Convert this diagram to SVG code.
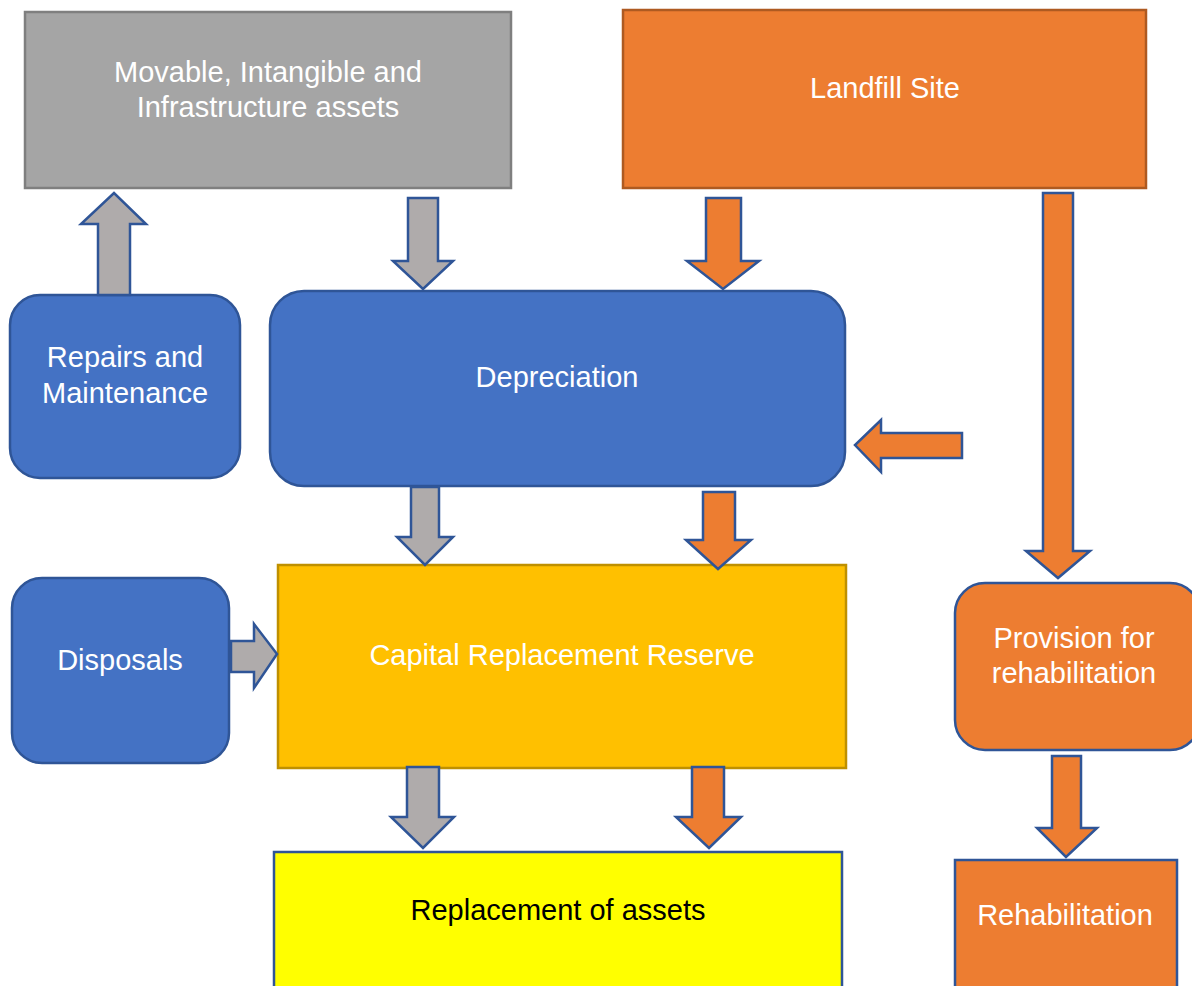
<svg xmlns="http://www.w3.org/2000/svg" width="1192" height="986" viewBox="0 0 1192 986">
  <style>
    text { font-family: "Liberation Sans", Arial, sans-serif; font-size: 29px; text-anchor: middle; fill: #ffffff; }
    .gray { fill: #a5a5a5; stroke: #7f7f7f; stroke-width: 2.5; }
    .orange { fill: #ed7d31; stroke: #ae5a21; stroke-width: 2.5; }
    .blue { fill: #4472c4; stroke: #2f5597; stroke-width: 2.5; }
    .gold { fill: #ffc000; stroke: #bf9000; stroke-width: 2.5; }
    .yellow { fill: #ffff00; stroke: #2f5597; stroke-width: 2.5; }
    .orange-b { fill: #ed7d31; stroke: #2f5597; stroke-width: 2.5; }
    .arr-g { fill: #afabab; stroke: #2f5597; stroke-width: 2.5; stroke-linejoin: miter; }
    .arr-o { fill: #ed7d31; stroke: #2f5597; stroke-width: 2.5; stroke-linejoin: miter; }
    .dark { fill: #000000; }
  </style>

  <g id="movable-assets">
    <rect class="gray" x="25" y="12" width="486" height="176"/>
    <text x="268" y="82">Movable, Intangible and</text>
    <text x="268" y="117">Infrastructure assets</text>
  </g>

  <g id="landfill-site">
    <rect class="orange" x="623" y="10" width="523" height="178"/>
    <text x="885" y="98">Landfill Site</text>
  </g>

  <g id="repairs-maintenance">
    <rect class="blue" x="10" y="295" width="230" height="183" rx="30" ry="30"/>
    <text x="125" y="367">Repairs and</text>
    <text x="125" y="403">Maintenance</text>
  </g>

  <g id="depreciation">
    <rect class="blue" x="270" y="291" width="575" height="195" rx="34" ry="34"/>
    <text x="557" y="387">Depreciation</text>
  </g>

  <g id="disposals">
    <rect class="blue" x="12" y="578" width="217" height="185" rx="30" ry="30"/>
    <text x="120" y="670">Disposals</text>
  </g>

  <g id="capital-replacement-reserve">
    <rect class="gold" x="278" y="565" width="568" height="203"/>
    <text x="562" y="665">Capital Replacement Reserve</text>
  </g>

  <g id="provision-rehabilitation">
    <rect class="orange-b" x="955" y="583" width="245" height="167" rx="30" ry="30"/>
    <text x="1074" y="648">Provision for</text>
    <text x="1074" y="683">rehabilitation</text>
  </g>

  <g id="replacement-of-assets">
    <rect class="yellow" x="274" y="852" width="568" height="150"/>
    <text class="dark" x="558" y="920">Replacement of assets</text>
  </g>

  <g id="rehabilitation">
    <rect class="orange-b" x="955" y="860" width="222" height="140"/>
    <text x="1065" y="925">Rehabilitation</text>
  </g>

  <g id="connectors">
    <!-- repairs up to movable assets -->
    <polygon class="arr-g" points="98,295 98,224 81,224 114,193 146,224 130,224 130,295"/>
    <!-- movable assets down to depreciation -->
    <polygon class="arr-g" points="408,198 438,198 438,261 453,261 423,289 393,261 408,261"/>
    <!-- landfill down to depreciation -->
    <polygon class="arr-o" points="706,198 741,198 741,261 759,261 723,289 687,261 706,261"/>
    <!-- landfill side arrow into depreciation -->
    <polygon class="arr-o" points="962,433 962,458 881,458 881,472 855,445 881,420 881,433"/>
    <!-- landfill down to provision -->
    <polygon class="arr-o" points="1043,193 1073,193 1073,551 1090,551 1058,578 1026,551 1043,551"/>
    <!-- depreciation down to reserve -->
    <polygon class="arr-g" points="411,487 439,487 439,537 453,537 425,565 397,537 411,537"/>
    <polygon class="arr-o" points="703,492 735,492 735,540 751,540 718,569 686,540 703,540"/>
    <!-- disposals into reserve -->
    <polygon class="arr-g" points="231,641 254,641 254,624 277,654 254,688 254,672 231,672"/>
    <!-- reserve down to replacement -->
    <polygon class="arr-g" points="407,767 439,767 439,817 454,817 423,848 391,817 407,817"/>
    <polygon class="arr-o" points="692,767 724,767 724,817 741,817 709,848 676,817 692,817"/>
    <!-- provision down to rehabilitation -->
    <polygon class="arr-o" points="1052,756 1081,756 1081,828 1097,828 1066,857 1037,828 1052,828"/>
  </g>
</svg>
